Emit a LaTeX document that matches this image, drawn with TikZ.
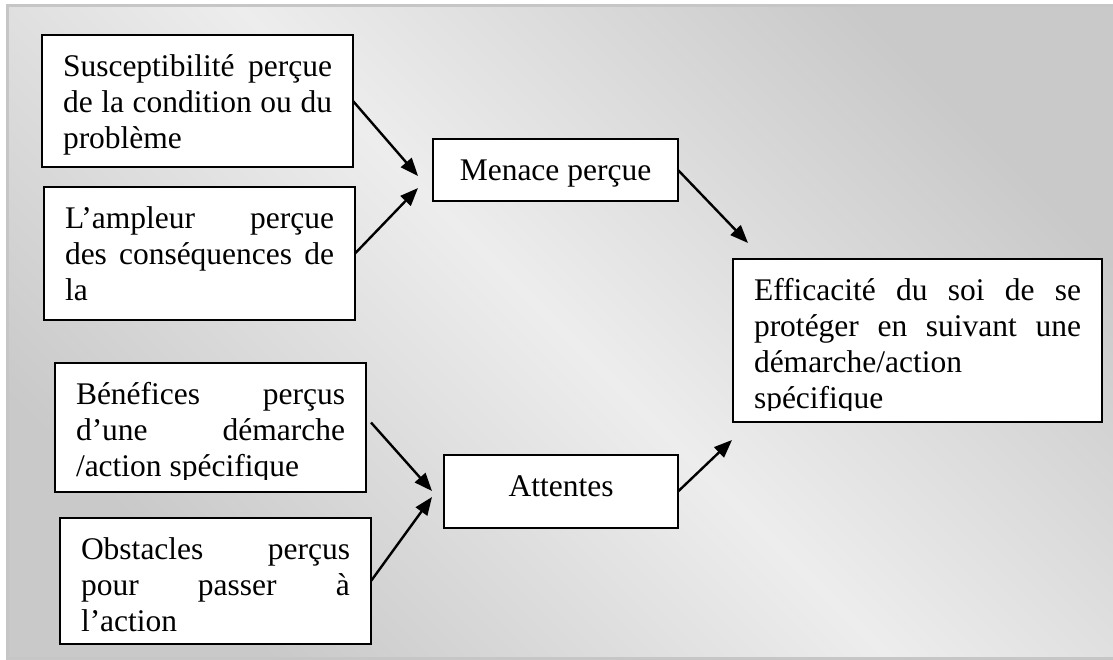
\documentclass[tikz,border=0pt]{standalone}
\usepackage{fontspec}
\setmainfont{Liberation Serif}[Ligatures=NoCommon]
\usepackage{tikz}
\usetikzlibrary{arrows.meta}
\tikzset{>={Triangle[length=9pt,width=7pt]}}
\definecolor{bgmid}{HTML}{EDEDED}
\definecolor{bgedge}{HTML}{C9C9C9}
\definecolor{framegray}{HTML}{C6C6C6}
\newcommand{\jline}[1]{\makebox[\linewidth][s]{#1}}
\newcommand{\boxtext}[3]{\parbox[t][#1][t]{#2}{\strut #3}}

\begin{document}
\begin{tikzpicture}[x=0.5pt,y=-0.5pt,
	box/.style={draw,fill=white,line width=1.2pt,anchor=north west,inner xsep=10.5pt,inner ysep=7.9pt,outer sep=0pt,font=\fontsize{15.75pt}{18pt}\selectfont},
	link/.style={->,line width=1.2pt}]
	\useasboundingbox (0,0) rectangle (1113,659);
	\clip (0,0) rectangle (1113,659);
	\shade[top color=bgedge,bottom color=bgedge,middle color=bgmid,shading angle=-45] (7.5,5.5) rectangle (1120,658.5);
	\draw[framegray,line width=1.5pt] (7.5,5.5) rectangle (1120,658.5);

	% facteurs
	\node[box] (sus) at (42,35) {\boxtext{50.2pt}{134.5pt}{\jline{Susceptibilité perçue}\\ \jline{de la condition ou du}\\ problème}};
	\node[box] (amp) at (44,187) {\boxtext{50.7pt}{134.5pt}{\jline{L’ampleur perçue}\\ \jline{des conséquences de}\\ la}};
	\node[box] (ben) at (55,363) {\boxtext{48.7pt}{134.5pt}{\jline{Bénéfices perçus}\\ \jline{d’une démarche}\\ /action spécifique}};
	\node[box] (obs) at (60,518) {\boxtext{47.2pt}{134.5pt}{\jline{Obstacles perçus}\\ \jline{pour passer à}\\ l’action}};
	\node[box] (menace) at (433,139) {\boxtext{15.2pt}{101.5pt}{\centering Menace perçue}};
	\node[box] (att) at (444,455) {\boxtext{20.7pt}{96pt}{\centering Attentes}};
	\node[box] (eff) at (733,259) {\boxtext{65.7pt}{163.5pt}{\jline{Efficacité du soi de se}\\ \jline{protéger en suivant une}\\ démarche/action\\ spécifique}};

	% texte coupe en bas
	\fill[white] (734.5,411) rectangle (1100.5,420.5);
	\fill[white] (56.5,480) rectangle (364.5,490);

	\coordinate (m1) at (418,176);
	\coordinate (m2) at (418,188);
	\coordinate (e1) at (748,243);
	\coordinate (a1) at (432,491);
	\coordinate (a2) at (432,497);
	\coordinate (e2) at (732,440);

	\draw[link] (sus.east) -- (m1);
	\draw[link] (amp.east) -- (m2);
	\draw[link] (menace.east) -- (e1);
	\draw[link] ([shift={(5,-5)}]ben.east) -- (a1);
	\draw[link] (obs.east) -- (a2);
	\draw[link] (att.east) -- (e2);
\end{tikzpicture}
\end{document}
